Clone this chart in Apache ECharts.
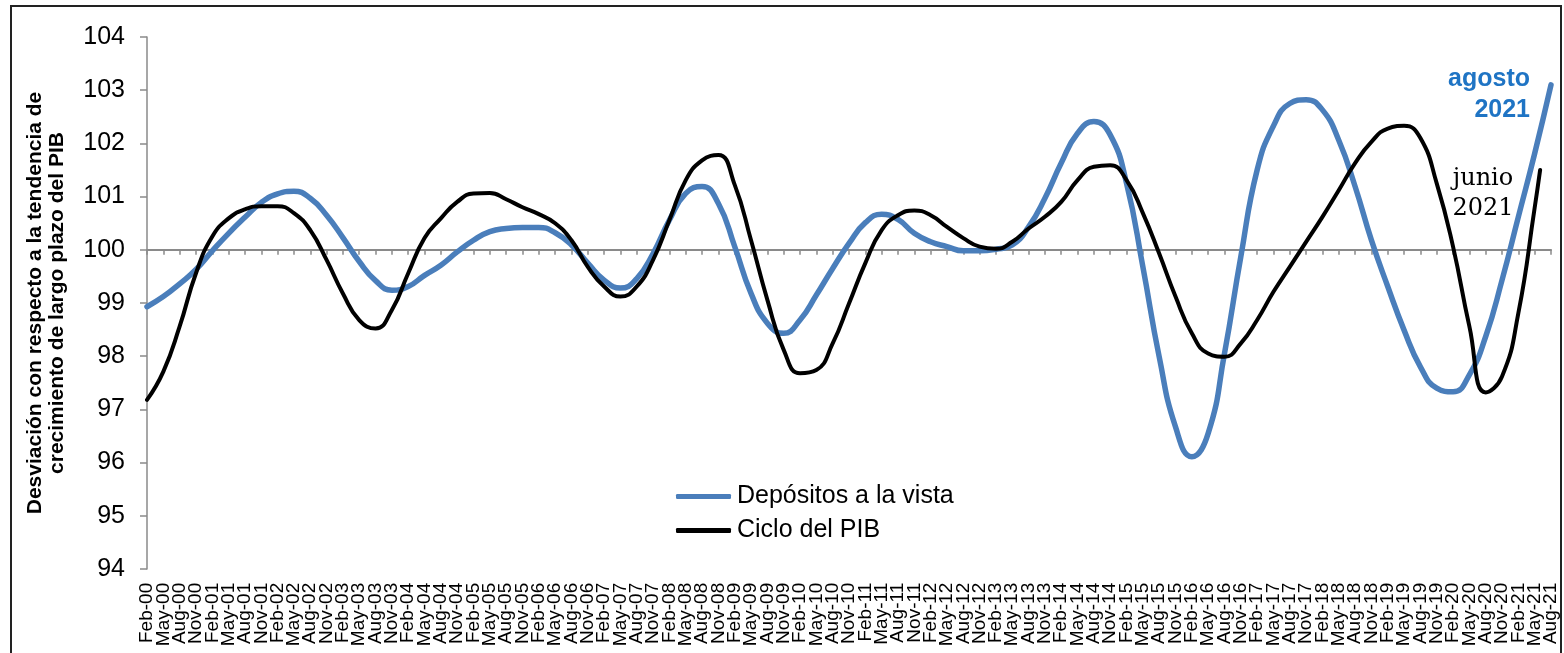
<!DOCTYPE html>
<html>
<head>
<meta charset="utf-8">
<script src="https://cdn.jsdelivr.net/npm/echarts@6/dist/echarts.min.js"></script>
<style>
html,body{margin:0;padding:0;background:#fff;}
#chart{width:1564px;height:653px;}
</style>
</head>
<body>
<div id="chart"></div>
<script>
// Month abbreviations used for the category labels (monthly axis, labelled every 3 months)
var monthNames = ['Jan','Feb','Mar','Apr','May','Jun','Jul','Aug','Sep','Oct','Nov','Dec'];
var firstYear = 2000, firstMonth = 1;   // Feb-00
var lastYear = 2021, lastMonth = 7;     // Aug-21

// Quarterly readings (Feb, May, Aug, Nov) from Feb-00 to Aug-21
var depositosQ = [
  98.93, 99.12, 99.36, 99.63, 99.98, 100.31, 100.61, 100.89, 101.05, 101.10,
  100.97, 100.65, 100.23, 99.78, 99.42, 99.24, 99.31, 99.52, 99.71, 99.96,
  100.18, 100.34, 100.40, 100.42, 100.42, 100.32, 100.09, 99.75, 99.43, 99.28,
  99.46, 99.93, 100.56, 101.06, 101.19, 100.87, 100.06, 99.18, 98.62, 98.43,
  98.68, 99.15, 99.65, 100.12, 100.51, 100.67, 100.57, 100.31, 100.15, 100.06,
  99.98, 99.98, 100.01, 100.09, 100.43, 100.97, 101.63, 102.19, 102.41, 102.16,
  101.25, 99.68, 97.99, 96.67, 96.11, 96.55, 98.05, 99.87, 101.50, 102.33,
  102.75, 102.82, 102.63, 102.06, 101.19, 100.18, 99.31, 98.49, 97.80, 97.40,
  97.33, 97.65, 98.37, 99.43, 100.62, 101.81, 103.10
];
// Quarterly readings from Feb-00 to May-21
var cicloQ = [
  97.18, 97.71, 98.56, 99.56, 100.25, 100.59, 100.76, 100.82, 100.82, 100.69,
  100.37, 99.81, 99.18, 98.68, 98.52, 98.87, 99.56, 100.22, 100.59, 100.90,
  101.06, 101.07, 100.95, 100.80, 100.67, 100.50, 100.18, 99.68, 99.31, 99.12,
  99.31, 99.81, 100.56, 101.31, 101.68, 101.78, 101.22, 100.18, 99.06, 98.12,
  97.68, 97.74, 98.24, 98.99, 99.75, 100.37, 100.65, 100.74, 100.65, 100.43,
  100.22, 100.06, 100.02, 100.15, 100.40, 100.62, 100.90, 101.31, 101.56, 101.59,
  101.31, 100.69, 99.93, 99.12, 98.43, 98.05, 97.99, 98.24, 98.68, 99.21,
  99.68, 100.15, 100.62, 101.12, 101.63, 102.03, 102.28, 102.33, 102.10, 101.25,
  100.06, 98.56, 97.32, 97.62, 98.81, 100.79
];
// Last observation of the GDP cycle: June 2021
var cicloJun21 = 101.50;

var yTicks = {min: 94, max: 104, step: 1};

// ---- build monthly category axis and series (values only on observed months) ----
var categories = [];
(function(){
  var y = firstYear, m = firstMonth;
  while (y < lastYear || (y === lastYear && m <= lastMonth)) {
    categories.push(monthNames[m] + '-' + String(y % 100).padStart(2, '0'));
    m++; if (m > 11) { m = 0; y++; }
  }
})();
var depData = categories.map(function(){ return null; });
var cicData = categories.map(function(){ return null; });
depositosQ.forEach(function(v, i){ depData[i * 3] = v; });
cicloQ.forEach(function(v, i){ cicData[i * 3] = v; });
cicData[categories.indexOf('Jun-21')] = cicloJun21;

var chart = echarts.init(document.getElementById('chart'), null, {renderer: 'canvas'});
var gridTop = 37, gridBottom = 84, gridH = 653 - gridTop - gridBottom;
var axisOffset = -gridH * (100 - yTicks.min) / (yTicks.max - yTicks.min);
var FONT = 'Arial, Liberation Sans, sans-serif';

function labelAxis(phase, showLine) {
  return {
    type: 'category',
    data: categories,
    boundaryGap: false,
    position: 'bottom',
    offset: axisOffset,
    axisLine: {show: showLine, lineStyle: {color: '#8a8a8a', width: 2}},
    axisTick: {show: showLine, interval: 2, length: 5, inside: false, lineStyle: {color: '#8a8a8a', width: 1.5}},
    axisLabel: {
      interval: function (index) { return index % 6 === phase; },
      rotate: 90, margin: 333,
      fontFamily: FONT, fontSize: 19, color: '#000',
      hideOverlap: false
    },
    splitLine: {show: false}
  };
}

chart.setOption({
  animation: false,
  backgroundColor: '#ffffff',
  grid: {left: 147, right: 13, top: gridTop, bottom: gridBottom, containLabel: false},
  legend: {
    orient: 'vertical',
    left: 676, top: 484,
    padding: 0,
    itemGap: 9,
    itemWidth: 55, itemHeight: 5,
    textStyle: {fontFamily: FONT, fontSize: 25, color: '#000', padding: [0, 0, 0, 1]},
    data: [
      {name: 'Depósitos a la vista', icon: 'roundRect', itemStyle: {color: '#4A7EBB'}},
      {name: 'Ciclo del PIB', icon: 'roundRect', itemStyle: {color: '#000000'}}
    ]
  },
  xAxis: [labelAxis(0, true), labelAxis(3, false)],
  yAxis: {
    type: 'value',
    min: yTicks.min, max: yTicks.max, interval: yTicks.step,
    name: 'Desviación con respecto a la tendencia de\ncrecimiento de largo plazo del PIB',
    nameLocation: 'middle',
    nameRotate: 90,
    nameGap: 79,
    nameTextStyle: {fontFamily: FONT, fontWeight: 'bold', fontSize: 21, lineHeight: 22, color: '#000', align: 'center'},
    axisLine: {show: true, lineStyle: {color: '#8a8a8a', width: 1.5}},
    axisTick: {show: true, inside: false, length: 7, lineStyle: {color: '#8a8a8a', width: 1.5}},
    axisLabel: {margin: 22, fontFamily: FONT, fontSize: 25, color: '#000'},
    splitLine: {show: false}
  },
  series: [
    {
      name: 'Depósitos a la vista',
      type: 'line',
      xAxisIndex: 0,
      data: depData,
      connectNulls: true,
      smooth: 0.5,
      showSymbol: false,
      symbol: 'none',
      color: '#4A7EBB',
      lineStyle: {color: '#4A7EBB', width: 5.5, cap: 'round', join: 'round'},
      z: 2
    },
    {
      name: 'Ciclo del PIB',
      type: 'line',
      xAxisIndex: 0,
      data: cicData,
      connectNulls: true,
      smooth: 0.5,
      showSymbol: false,
      symbol: 'none',
      color: '#000000',
      lineStyle: {color: '#000000', width: 4, cap: 'round', join: 'round'},
      z: 3
    }
  ],
  graphic: [
    {
      type: 'rect', silent: true, z: 100,
      shape: {x: 11, y: 6, width: 1550, height: 660},
      style: {fill: 'none', stroke: '#222', lineWidth: 2}
    },
    {
      type: 'text', z: 101,
      style: {
        text: 'agosto\n2021', x: 1530, y: 64, align: 'right', verticalAlign: 'top',
        fill: '#1F74C4', font: 'bold 25px Arial, Liberation Sans, sans-serif', lineHeight: 31
      }
    },
    {
      type: 'text', z: 101,
      style: {
        text: 'junio\n2021', x: 1483, y: 164, align: 'center', verticalAlign: 'top',
        fill: '#000', font: '24px DejaVu Serif, serif', lineHeight: 30
      }
    }
  ]
});
</script>
</body>
</html>
